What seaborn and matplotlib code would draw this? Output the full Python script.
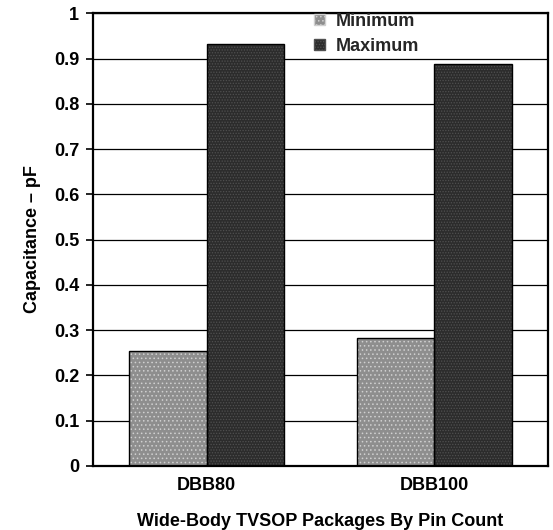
import pandas as pd
import matplotlib
matplotlib.use("Agg")
from matplotlib import pyplot as plt
from matplotlib.patches import Rectangle
import seaborn as sns

# data
packages = ['DBB80', 'DBB100']
series = ['Minimum', 'Maximum']
cap_min = [0.253, 0.283]
cap_max = [0.932, 0.888]
yticks = [0, 0.1, 0.2, 0.3, 0.4, 0.5, 0.6, 0.7, 0.8, 0.9, 1]

df = pd.DataFrame({'Package': packages * 2,
                   'Type': [series[0]] * 2 + [series[1]] * 2,
                   'Capacitance': cap_min + cap_max})

sns.set_theme(style='ticks')
plt.rcParams['font.family'] = ['Liberation Sans', 'DejaVu Sans']
plt.rcParams['font.weight'] = 'bold'
plt.rcParams['hatch.linewidth'] = 0.6

fig = plt.figure(figsize=(5.53, 5.30), dpi=100)
ax = fig.add_axes([0.168, 0.121, 0.823, 0.854])

fills = {'Minimum': '#8e8e8e', 'Maximum': '#2c2c2c'}
hatch_col = {'Minimum': '#d0d0d0', 'Maximum': '#505050'}
hatches = {'Minimum': '....', 'Maximum': '......'}

ax.set_axisbelow(True)
ax.yaxis.grid(True, color='black', linewidth=0.9)

sns.barplot(data=df, x='Package', y='Capacitance', hue='Type',
            palette=fills, width=0.68, gap=0, saturation=1,
            ax=ax, legend=True)

# stipple texture + black outline on each bar
for cont, name in zip(ax.containers, series):
    for p in cont:
        p.set_hatch(hatches[name])
        p.set_edgecolor(hatch_col[name])
        p.set_linewidth(0)
        ax.add_patch(Rectangle(p.get_xy(), p.get_width(), p.get_height(),
                               fill=False, edgecolor='black', linewidth=1.0,
                               zorder=p.get_zorder() + 0.1))

fs = 13
ax.set_ylim(0, 1)
ax.set_xlim(-0.5, 1.5)
ax.set_yticks(yticks)
ax.set_yticklabels(['0' if v == 0 else ('1' if v == 1 else f'{v:g}') for v in yticks])
ax.tick_params(axis='y', length=5, width=1.2, color='black', labelsize=fs, pad=5)
ax.tick_params(axis='x', length=0, labelsize=fs, pad=8)
for lab in ax.get_xticklabels() + ax.get_yticklabels():
    lab.set_fontweight('bold')
    lab.set_color('black')

for s in ax.spines.values():
    s.set_visible(True)
    s.set_color('black')
    s.set_linewidth(1.6)

ax.set_xlabel('Wide-Body TVSOP Packages By Pin Count', fontsize=fs,
              fontweight='bold', labelpad=14, color='black')
ax.set_ylabel('Capacitance \u2013 pF', fontsize=fs, fontweight='bold',
              labelpad=9, color='black')

handles, labels = ax.get_legend_handles_labels()
for h, name in zip(handles, labels):
    h.set_hatch(hatches[name])
    h.set_edgecolor(hatch_col[name])
leg = ax.legend(handles, labels, loc='upper left', bbox_to_anchor=(0.471, 1.017),
                frameon=False, fontsize=fs, handlelength=0.6, handleheight=0.6,
                handletextpad=0.6, labelspacing=0.45, borderaxespad=0)
for t in leg.get_texts():
    t.set_fontweight('bold')

fig.savefig('out.png', dpi=100, facecolor='white')
